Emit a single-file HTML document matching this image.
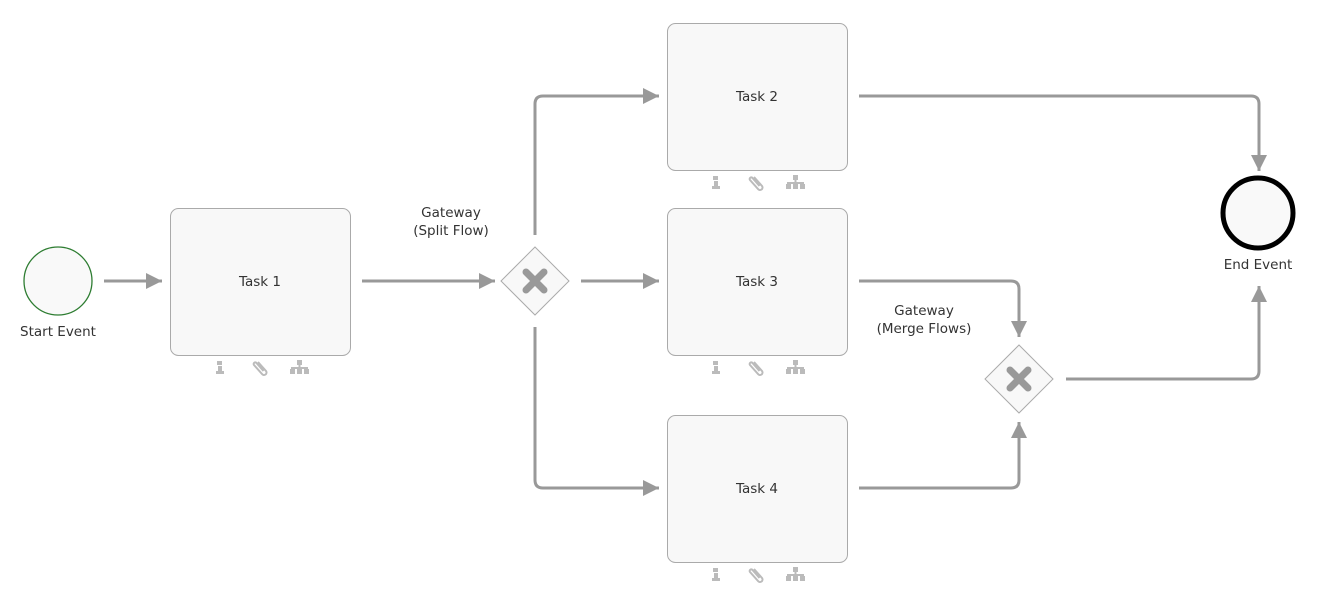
<!DOCTYPE html>
<html><head><meta charset="utf-8"><style>
html,body{margin:0;padding:0;background:#fff;}
svg{display:block;font-family:"DejaVu Sans","Liberation Sans",sans-serif;}
text{font-size:13.5px;fill:#333;}
</style></head><body>
<svg width="1322" height="607" viewBox="0 0 1322 607" xmlns="http://www.w3.org/2000/svg">
<defs>
<marker id="h" viewBox="0 0 16 16" markerWidth="16" markerHeight="16" refX="16" refY="8" orient="auto" markerUnits="userSpaceOnUse">
<path d="M0,0 L16,8 L0,16 Z" fill="#999"/>
</marker>
<g id="icons" fill="#bbb">
<rect x="-3" y="-7" width="5" height="4"/><rect x="-2" y="-2" width="4" height="6"/><rect x="-4" y="3" width="8" height="3"/>
<path d="M38,-6 l8,9 a2.5,2.5 0 0 1 -4,3 l-8,-9 a1.6,1.6 0 0 1 2.5,-2 l7,8" fill="none" stroke="#bbb" stroke-width="2"/>
<rect x="77" y="-8" width="5" height="5"/><rect x="78.5" y="-4" width="2" height="3"/><rect x="71" y="-1" width="17" height="2"/>
<rect x="70" y="1" width="5" height="5"/><rect x="77" y="1" width="5" height="5"/><rect x="84" y="1" width="5" height="5"/>
</g>
</defs>
<g fill="none" stroke="#999" stroke-width="3">
<path d="M104,281 H162" marker-end="url(#h)"/>
<path d="M362,281 H495" marker-end="url(#h)"/>
<path d="M535,235 V104 Q535,96 543,96 H659" marker-end="url(#h)"/>
<path d="M581,281 H659" marker-end="url(#h)"/>
<path d="M535,327 V480 Q535,488 543,488 H659" marker-end="url(#h)"/>
<path d="M859,96 H1251 Q1259,96 1259,104 V171" marker-end="url(#h)"/>
<path d="M859,281 H1011 Q1019,281 1019,289 V337" marker-end="url(#h)"/>
<path d="M859,488 H1011 Q1019,488 1019,480 V422" marker-end="url(#h)"/>
<path d="M1066,379 H1251 Q1259,379 1259,371 V286" marker-end="url(#h)"/>
</g>
<circle cx="58" cy="281" r="34" fill="#f9f9f9" stroke="#2e7d32" stroke-width="1.3"/>
<text x="58" y="336" text-anchor="middle">Start Event</text>
<circle cx="1258" cy="213" r="35" fill="#f9f9f9" stroke="#000" stroke-width="5"/>
<text x="1258" y="269" text-anchor="middle">End Event</text>
<g fill="#f8f8f8" stroke="#aaa" stroke-width="1">
<rect x="170.5" y="208.5" width="180" height="147" rx="8"/>
<rect x="667.5" y="23.5" width="180" height="147" rx="8"/>
<rect x="667.5" y="208.5" width="180" height="147" rx="8"/>
<rect x="667.5" y="415.5" width="180" height="147" rx="8"/>
<path d="M535,247 L569,281 L535,315 L501,281 Z"/>
<path d="M1019,345 L1053,379 L1019,413 L985,379 Z"/>
</g>
<g stroke="#999" stroke-width="7" stroke-linecap="round">
<path d="M526,272 L544,290 M544,272 L526,290"/>
<path d="M1010,370 L1028,388 M1028,370 L1010,388"/>
</g>
<text x="260" y="286" text-anchor="middle">Task 1</text>
<text x="757" y="101" text-anchor="middle">Task 2</text>
<text x="757" y="286" text-anchor="middle">Task 3</text>
<text x="757" y="493" text-anchor="middle">Task 4</text>
<text x="451" y="217" text-anchor="middle">Gateway</text>
<text x="451" y="235" text-anchor="middle">(Split Flow)</text>
<text x="924" y="315" text-anchor="middle">Gateway</text>
<text x="924" y="333" text-anchor="middle">(Merge Flows)</text>
<use href="#icons" x="220" y="368"/>
<use href="#icons" x="716" y="183"/>
<use href="#icons" x="716" y="368"/>
<use href="#icons" x="716" y="575"/>
</svg>
</body></html>
